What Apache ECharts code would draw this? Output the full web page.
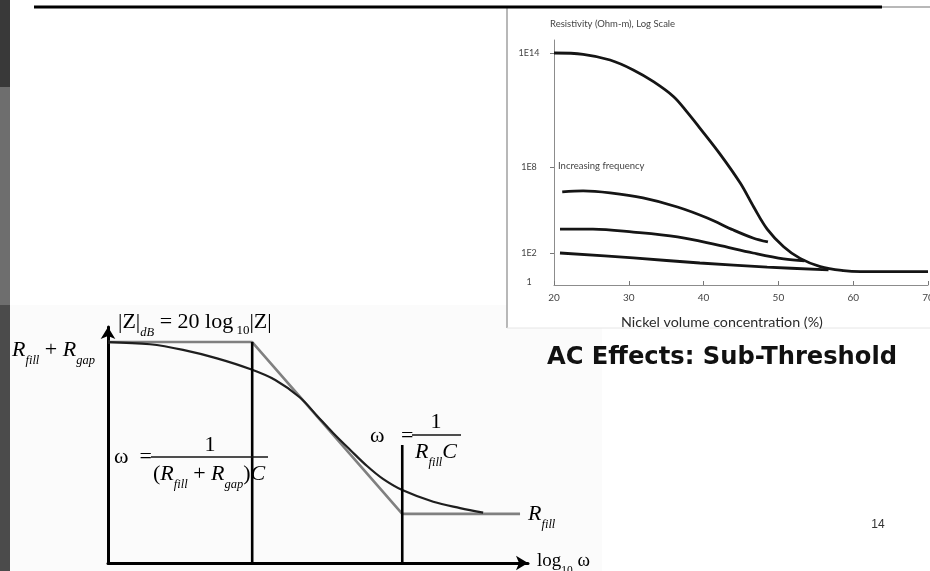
<!DOCTYPE html>
<html>
<head>
<meta charset="utf-8">
<script src="https://cdn.jsdelivr.net/npm/echarts@6/dist/echarts.min.js"></script>
<style>
html,body{margin:0;padding:0;background:#fff;}
#chart{width:930px;height:571px;}
</style>
</head>
<body>
<div id="chart"></div>
<script>
// ---- Resistivity vs nickel volume concentration (log10 of ohm-m) ----
const nickelTicks = [20, 30, 40, 50, 60, 70];
const resTickLog = [0, 2, 8, 14];
const resTickLabels = ['1', '1E2', '1E8', '1E14'];

// DC curve and three curves of increasing frequency: [Ni %, log10 resistivity]
const curveDC = [[20,14],[23.9,13.93],[27.5,13.63],[30.6,13.11],[33.3,12.49],[36.0,11.7],[37.8,10.89],
  [39.5,10.05],[42.2,8.68],[44.9,6.88],[46.7,5.21],[48.5,3.67],[50.7,2.44],[52.9,1.63],[55.6,1.06],
  [58.7,0.78],[61.0,0.71],[70,0.71]];
const curveF1 = [[21.1,6.26],[23.9,6.33],[27.5,6.19],[31.9,5.84],[36.5,5.21],[40.5,4.44],[44.0,3.6],[46.6,3.05],[48.6,2.77]];
const curveF2 = [[20.8,3.67],[25.2,3.67],[30.6,3.46],[36.5,3.12],[41.8,2.56],[46.6,2.0],[50.7,1.59],[53.5,1.45]];
const curveF3 = [[20.8,2.0],[30.6,1.66],[39.5,1.31],[48.5,1.03],[56.7,0.83]];

// ---- Bode magnitude sketch: log10(omega) vs |Z|dB, arbitrary units ----
const asymptote = [[0,9.09],[3.44,9.09],[7.02,2.02],[9.83,2.02]];
const response = [[0,9.09],[1.0,9.0],[1.79,8.77],[2.6,8.42],[3.39,7.98],[3.99,7.53],[4.58,6.81],[4.99,6.05],
  [5.37,5.35],[5.78,4.65],[6.18,3.99],[6.56,3.46],[7.02,3.0],[7.76,2.52],[8.4,2.26],[8.95,2.07]];
const cornerLow = [[3.44,0],[3.44,9.09]];
const cornerHigh = [[7.02,0],[7.02,4.86]];

// The resistivity axis is a schematic log axis: decades are not evenly spaced.
const decadeBreaks = [0, 2, 8, 14];
const decadeAxisPos = [3, 32, 118, 232];
function logToAxis(v) {
  let i = 0;
  while (i < decadeBreaks.length - 2 && v > decadeBreaks[i + 1]) i++;
  const t = (v - decadeBreaks[i]) / (decadeBreaks[i + 1] - decadeBreaks[i]);
  return decadeAxisPos[i] + t * (decadeAxisPos[i + 1] - decadeAxisPos[i]);
}
const toAxis = pts => pts.map(([x, l]) => [x, logToAxis(l)]);

const SERIF = 'Liberation Serif';
const ink = '#141414';
const mathRich = {
  m: {fontFamily: SERIF, fontSize: 22, color: ink, height: 24, verticalAlign: 'bottom'},
  i: {fontFamily: SERIF, fontSize: 22, fontStyle: 'italic', color: ink, height: 24, verticalAlign: 'bottom'},
  s: {fontFamily: SERIF, fontSize: 12.5, fontStyle: 'italic', color: ink, height: 3, verticalAlign: 'bottom'},
  t: {fontFamily: SERIF, fontSize: 13, color: ink, height: 6, verticalAlign: 'bottom'},
  g: {fontFamily: SERIF, fontSize: 19, color: ink, height: 24, verticalAlign: 'bottom'},
  u: {fontFamily: SERIF, fontSize: 11.5, color: ink, height: 5, verticalAlign: 'bottom'}
};
function mathText(x, y, text, align) {
  return {type: 'text', x: x, y: y, z: 5,
    style: {text: text, rich: mathRich, align: align || 'left', verticalAlign: 'middle'}};
}
function rule(x1, y1, x2, y2, stroke, w, z) {
  return {type: 'line', z: z == null ? 5 : z, shape: {x1: x1, y1: y1, x2: x2, y2: y2},
    style: {stroke: stroke, lineWidth: w}};
}

const chart = echarts.init(document.getElementById('chart'), null, {renderer: 'canvas'});

const option = {
  animation: false,
  grid: [
    {left: 554, top: 40, right: 2, bottom: 286, outerBoundsMode: 'none'},
    {left: 108, top: 327, width: 420, height: 236, outerBoundsMode: 'none'}
  ],
  xAxis: [
    {
      gridIndex: 0, type: 'value', min: nickelTicks[0], max: nickelTicks[nickelTicks.length - 1], interval: 10,
      axisLine: {lineStyle: {color: '#8c8c8c', width: 1}},
      axisTick: {inside: true, length: 4, lineStyle: {color: '#777'}},
      axisLabel: {color: '#444', fontSize: 10, fontFamily: 'Lato', margin: 8, showMaxLabel: true},
      splitLine: {show: false},
      name: 'Nickel volume concentration (%)', nameLocation: 'middle', nameGap: 30,
      nameTextStyle: {fontFamily: 'Lato', fontSize: 14.3, color: '#2b2b2b', padding: [0, 38, 0, 0]}
    },
    {
      gridIndex: 1, type: 'value', min: 0, max: 10.02,
      axisLine: {lineStyle: {color: '#000', width: 3}, symbol: ['none', 'arrow'], symbolSize: [11, 12]},
      axisTick: {show: false}, axisLabel: {show: false}, splitLine: {show: false}
    }
  ],
  yAxis: [
    {
      gridIndex: 0, type: 'value', min: 0, max: 245,
      axisLine: {show: true, lineStyle: {color: '#8c8c8c', width: 1}},
      axisTick: {show: true, length: 4, lineStyle: {color: '#777'},
        customValues: resTickLog.slice(1).map(logToAxis)},
      axisLabel: {
        customValues: resTickLog.map(logToAxis), color: '#444', fontSize: 9, fontFamily: 'Lato',
        margin: 25, align: 'center',
        formatter: v => {
          const k = resTickLog.findIndex(l => Math.abs(logToAxis(l) - v) < 0.5);
          return k >= 0 ? resTickLabels[k] : '';
        }
      },
      splitLine: {show: false},
      name: 'Resistivity (Ohm-m), Log Scale', nameLocation: 'end', nameGap: 11,
      nameTextStyle: {align: 'left', fontSize: 9.5, fontFamily: 'Lato', color: '#444', padding: [0, 0, 0, -4]}
    },
    {
      gridIndex: 1, type: 'value', min: 0, max: 9.71,
      axisLine: {lineStyle: {color: '#000', width: 3}, symbol: ['none', 'arrow'], symbolSize: [11, 12]},
      axisTick: {show: false}, axisLabel: {show: false}, splitLine: {show: false}
    }
  ],
  series: [
    ...[curveDC, curveF1, curveF2, curveF3].map(c => ({
      type: 'line', xAxisIndex: 0, yAxisIndex: 0, data: toAxis(c), smooth: 0.35,
      symbol: 'none', lineStyle: {color: '#151515', width: 2.8}
    })),
    {type: 'line', xAxisIndex: 1, yAxisIndex: 1, data: asymptote, symbol: 'none',
      lineStyle: {color: '#808080', width: 2.6}},
    {type: 'line', xAxisIndex: 1, yAxisIndex: 1, data: response, smooth: 0.35, symbol: 'none',
      lineStyle: {color: '#1e1e1e', width: 2.2}},
    {type: 'line', xAxisIndex: 1, yAxisIndex: 1, data: cornerLow, symbol: 'none',
      lineStyle: {color: '#000', width: 2.6}},
    {type: 'line', xAxisIndex: 1, yAxisIndex: 1, data: cornerHigh, symbol: 'none',
      lineStyle: {color: '#000', width: 2.6}}
  ],
  graphic: [
    // slide sidebar
    {type: 'rect', z: -10, shape: {x: 0, y: 0, width: 10, height: 87}, style: {fill: '#393939'}},
    {type: 'rect', z: -10, shape: {x: 0, y: 87, width: 10, height: 218}, style: {fill: '#6e6e6e'}},
    {type: 'rect', z: -10, shape: {x: 0, y: 305, width: 10, height: 266}, style: {fill: '#4b4b4b'}},
    // panel behind the Bode sketch
    {type: 'rect', z: -10, shape: {x: 10, y: 305, width: 592, height: 266}, style: {fill: '#fbfbfb'}},
    // panel behind the resistivity chart
    {type: 'rect', z: -9, shape: {x: 507, y: 7, width: 423, height: 321}, style: {fill: '#fff'}},
    rule(507, 7, 507, 328, '#a0a0a0', 1.5, -8),
    rule(507, 7, 930, 7, '#a0a0a0', 1.5, -8),
    rule(507, 328, 930, 328, '#e6e6e6', 1, -8),
    // title rule
    rule(34, 7, 882, 7, '#000', 3, 6),
    // slide title and page number
    {type: 'text', x: 722, y: 358, z: 6, style: {text: 'AC Effects: Sub-Threshold', align: 'center', verticalAlign: 'middle',
      fontFamily: 'DejaVu Sans', fontWeight: 'bold', fontSize: 24.2, fill: '#111'}},
    {type: 'text', x: 878, y: 525, z: 6, style: {text: '14', align: 'center', verticalAlign: 'middle',
      fontFamily: 'Liberation Sans', fontSize: 12, fill: '#333'}},
    // annotation inside the resistivity chart
    {type: 'text', x: 558, y: 166, z: 6, style: {text: 'Increasing frequency', align: 'left', verticalAlign: 'middle',
      fontFamily: 'Lato', fontSize: 9.5, fill: '#444'}},
    // Bode sketch labels
    mathText(118, 322, '{m||Z|}{s|dB}{m| = 20 log}{t| 10}{m||Z|}'),
    mathText(12, 350, '{i|R}{s|fill}{m| + }{i|R}{s|gap}'),
    mathText(114, 457, '{m|ω  =}'),
    rule(151, 457, 268, 457, ink, 1.6),
    mathText(210, 445, '{m|1}', 'center'),
    mathText(153, 474, '{m|(}{i|R}{s|fill}{m| + }{i|R}{s|gap}{m|)}{i|C}'),
    mathText(370, 436, '{m|ω   =}'),
    rule(412, 435, 461, 435, ink, 1.6),
    mathText(436, 422, '{m|1}', 'center'),
    mathText(436, 452, '{i|R}{s|fill}{i|C}', 'center'),
    mathText(528, 514, '{i|R}{s|fill}'),
    mathText(537, 561, '{g|log}{u|10}{g| ω}')
  ]
};
chart.setOption(option);
</script>
</body>
</html>
